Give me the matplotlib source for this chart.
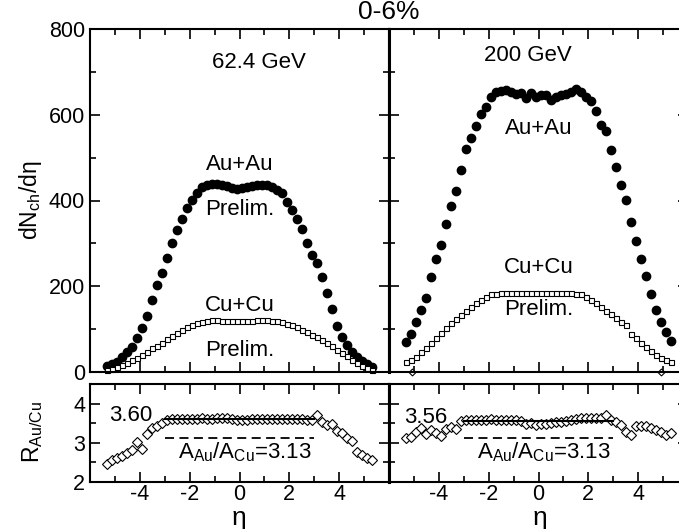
import matplotlib
matplotlib.use("Agg")
import matplotlib.pyplot as plt
from matplotlib.ticker import MultipleLocator, FixedLocator

plt.rcParams['font.family'] = ['Liberation Sans', 'DejaVu Sans']
plt.rcParams['mathtext.fontset'] = 'custom'
plt.rcParams['mathtext.rm'] = 'Liberation Sans'
plt.rcParams['mathtext.it'] = 'Liberation Sans:italic'
plt.rcParams['axes.unicode_minus'] = False

# pseudorapidity bins
eta = [-5.3, -5.1, -4.9, -4.7, -4.5, -4.3, -4.1, -3.9, -3.7, -3.5, -3.3, -3.1,
       -2.9, -2.7, -2.5, -2.3, -2.1, -1.9, -1.7, -1.5, -1.3, -1.1, -0.9, -0.7,
       -0.5, -0.3, -0.1, 0.1, 0.3, 0.5, 0.7, 0.9, 1.1, 1.3, 1.5, 1.7, 1.9, 2.1,
       2.3, 2.5, 2.7, 2.9, 3.1, 3.3, 3.5, 3.7, 3.9, 4.1, 4.3, 4.5, 4.7, 4.9,
       5.1, 5.3]

# 62.4 GeV
auau_62 = [14, 18, 24, 36, 46, 59, 79, 102, 131, 168, 204, 232,
           267, 300, 331, 358, 382, 401, 418, 432, 437, 439, 438, 436,
           433, 429, 427, 428, 431, 434, 436, 437, 436, 432, 425, 417, 397, 378,
           358, 333, 302, 273, 255, 222, 185, 148, 107, 82, 63, 47, 36, 26,
           19, 12]
cucu_62 = [5, 6, 11, 16, 22, 28, 32, 40, 47, 55, 61, 68,
           76, 84, 90, 98, 104, 110, 114, 117, 120, 121, 121, 120,
           120, 120, 120, 120, 120, 120, 121, 121, 121, 120, 118, 116, 113, 109,
           104, 99, 93, 87, 81, 74, 67, 60, 52, 44, 37, 29, 22, 15,
           10, 5]
ratio_62 = [2.47, 2.55, 2.60, 2.66, 2.73, 2.81, 3.01, 2.85, 3.23, 3.38, 3.44, 3.50,
            3.59, 3.60, 3.60, 3.60, 3.61, 3.61, 3.61, 3.62, 3.61, 3.61, 3.62, 3.63,
            3.62, 3.60, 3.58, 3.57, 3.59, 3.60, 3.61, 3.61, 3.60, 3.61, 3.60, 3.61,
            3.60, 3.61, 3.60, 3.60, 3.59, 3.58, 3.70, 3.52, 3.46, 3.49, 3.29, 3.25,
            3.13, 3.04, 2.77, 2.69, 2.62, 2.57]

# 200 GeV
auau_200 = [71, 88, 116, 145, 173, 222, 263, 296, 345, 388, 421, 471,
            519, 545, 574, 601, 617, 642, 654, 655, 658, 654, 648, 651,
            638, 651, 642, 646, 646, 634, 642, 646, 648, 654, 659, 654, 641, 632,
            609, 576, 561, 518, 479, 436, 401, 349, 306, 263, 224, 183, 145, 117,
            93, 73]
cucu_200 = [23, 28, 36, 46, 55, 67, 79, 90, 102, 114, 123, 133,
            143, 152, 162, 169, 176, 181, 183, 185, 185, 185, 185, 185,
            185, 185, 184, 184, 184, 184, 184, 184, 184, 184, 183, 182, 176, 169,
            160, 151, 143, 135, 125, 117, 110, 89, 79, 68, 59, 50, 40, 32,
            27, 23]
ratio_200 = [3.11, 3.16, 3.27, 3.38, 3.23, 3.32, 3.25, 3.17, 3.36, 3.40, 3.36, 3.55,
             3.59, 3.58, 3.58, 3.59, 3.59, 3.60, 3.59, 3.58, 3.58, 3.57, 3.57, 3.55,
             3.49, 3.50, 3.46, 3.49, 3.49, 3.50, 3.52, 3.52, 3.55, 3.59, 3.61, 3.62,
             3.64, 3.64, 3.64, 3.62, 3.71, 3.59, 3.52, 3.46, 3.27, 3.21, 3.44, 3.42,
             3.42, 3.38, 3.33, 3.27, 3.21, 3.25]
diamond_eta_200 = [-5.08, 4.92]
diamond_val_200 = [0, 0]

fit_62 = 3.60
fit_200 = 3.56
a_ratio = 3.13

eta_ticks = [-4, -2, 0, 2, 4]


def style_axis(ax):
    ax.set_xlim(-6, 6)
    ax.xaxis.set_major_locator(FixedLocator(eta_ticks))
    ax.xaxis.set_minor_locator(MultipleLocator(1))
    ax.tick_params(which='both', direction='in', top=True, right=True,
                   labelsize=15.5, width=1.2)
    ax.tick_params(which='major', length=7.2)
    ax.tick_params(which='minor', length=4.3)
    for s in ax.spines.values():
        s.set_linewidth(1.5)


fig = plt.figure(figsize=(6.79, 5.29), dpi=100)

x0 = 90 / 679
w = 299 / 679
top_b = 1 - 372 / 529
top_h = (372 - 29) / 529
bot_b = 1 - 482 / 529
bot_h = (482 - 384) / 529

ax_tl = fig.add_axes([x0, top_b, w, top_h])
ax_tr = fig.add_axes([x0 + w, top_b, w, top_h])
ax_bl = fig.add_axes([x0, bot_b, w, bot_h])
ax_br = fig.add_axes([x0 + w, bot_b, w, bot_h])

for ax in (ax_tl, ax_tr):
    style_axis(ax)
    ax.set_ylim(0, 800)
    ax.yaxis.set_major_locator(MultipleLocator(200))
    ax.yaxis.set_minor_locator(MultipleLocator(100))
    ax.set_xticklabels([])
for ax in (ax_bl, ax_br):
    style_axis(ax)
    ax.set_ylim(2, 4.5)
    ax.yaxis.set_major_locator(MultipleLocator(1))
    ax.yaxis.set_minor_locator(MultipleLocator(0.5))
    ax.tick_params(axis='x', pad=1.5)
ax_tr.set_yticklabels([])
ax_br.set_yticklabels([])
ax_tr.spines['left'].set_linewidth(2.2)
ax_br.spines['left'].set_linewidth(2.2)

# top panels
ax_tl.plot(eta, auau_62, 'o', color='black', markersize=6, clip_on=False)
ax_tl.plot(eta, cucu_62, 's', mfc='white', mec='black', mew=0.8, markersize=3.6, clip_on=False)
ax_tr.plot(eta, auau_200, 'o', color='black', markersize=6, clip_on=False)
ax_tr.plot(eta, cucu_200, 's', mfc='white', mec='black', mew=0.8, markersize=3.6, clip_on=False)
ax_tr.plot(diamond_eta_200, diamond_val_200, 'D', mfc='white', mec='black', mew=0.8,
           markersize=3.5, clip_on=False)

txt = dict(fontsize=16, ha='center', va='center')
ax_tl.text(0.77, 723, '62.4 GeV', **txt)
ax_tl.text(0, 483, 'Au+Au', **txt)
ax_tl.text(0, 380, 'Prelim.', **txt)
ax_tl.text(0, 156, 'Cu+Cu', **txt)
ax_tl.text(0, 51, 'Prelim.', **txt)
ax_tr.text(-0.44, 739, '200 GeV', **txt)
ax_tr.text(0, 569, 'Au+Au', **txt)
ax_tr.text(0, 243, 'Cu+Cu', **txt)
ax_tr.text(0, 145, 'Prelim.', **txt)

# ratio panels
for ax, r, fit in ((ax_bl, ratio_62, fit_62), (ax_br, ratio_200, fit_200)):
    ax.plot(eta, r, 'D', mfc='white', mec='black', mew=0.8, markersize=4.8, clip_on=False)
    ax.plot([-3, 3], [fit, fit], color='black', lw=1.5)
    ax.plot([-3, 3], [a_ratio, a_ratio], color='black', lw=1.3, dashes=(5, 3))
    ax.text(0.2, 2.76, r'A$_{\rm Au}$/A$_{\rm Cu}$=3.13', **txt)
ax_bl.text(-5.25, 3.70, '%.2f' % fit_62, fontsize=16, ha='left', va='center')
ax_br.text(-5.4, 3.65, '%.2f' % fit_200, fontsize=16, ha='left', va='center')

fig.text(239 / 679, 1 - 518 / 529, 'η', fontsize=19, ha='center', va='center')
fig.text(540 / 679, 1 - 518 / 529, 'η', fontsize=19, ha='center', va='center')
fig.text(30 / 679, 1 - 200 / 529, r'dN$_{\rm ch}$/dη', rotation=90,
         fontsize=16.5, ha='center', va='center')
fig.text(33 / 679, 1 - 432 / 529, r'R$_{\rm Au/Cu}$', rotation=90,
         fontsize=16.5, ha='center', va='center')
fig.text((x0 + w), 1 - 12 / 529, '0-6%', fontsize=19, ha='center', va='center')

fig.savefig('out.png', dpi=100)
